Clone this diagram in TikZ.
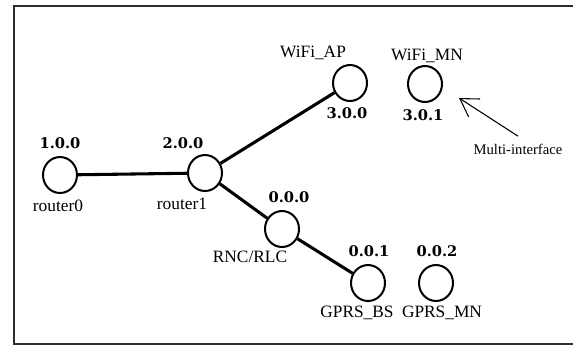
\documentclass[tikz,border=0pt]{standalone}
\usepackage{fontspec}
\usepackage{xcolor}
\usepackage{tikz}
\usetikzlibrary{shapes.geometric,arrows.meta}
\setmainfont{Liberation Serif}
\newfontfamily\addrfont{DejaVu Serif}
\definecolor{frame}{RGB}{45, 45, 45}

\begin{document}
\begin{tikzpicture}[x=0.75pt, y=-0.75pt,
    host/.style={ellipse, draw, line width=1.5pt, minimum width=25.5pt, minimum height=27pt, inner sep=0pt},
    addr/.style={font=\addrfont\bfseries\fontsize{11}{13}\selectfont, inner sep=0pt},
    hostname/.style={font=\fontsize{13}{15}\selectfont, inner sep=0pt},
    link/.style={line width=2.3pt},
    pointer/.style={line width=0.8pt, -{Straight Barb[length=13pt, width=16pt, line width=0.8pt]}}]
    \useasboundingbox (0,0) rectangle (573,347);

    % Frame (open on the right)
    \draw[frame, line width=2.2pt] (573,6) -- (14,6) -- (14,344) -- (573,344);

    % Hosts: circle, address above/below and name
    \foreach \id/\x/\y/\addr/\ax/\ay/\name/\nx/\ny in {
      r0/60/175/1.0.0/60/143/router0/58/206,
      r1/205/173/2.0.0/183/143/router1/182/204,
      wifiap/350/83/3.0.0/347/113/WiFi\_AP/313/53,
      wifimn/425/84/3.0.1/423/115/WiFi\_MN/427/56,
      rnc/282/229/0.0.0/289/197/{RNC/RLC}/250/257,
      gprsbs/368/283/0.0.1/369/251/GPRS\_BS/357/313,
      gprsmn/436/283/0.0.2/437/251/GPRS\_MN/442/313%
    } {
      \node[host] (\id) at (\x,\y) {};
      \node[addr] (\id-addr) at (\ax,\ay) {\addr};
      \node[hostname] (\id-name) at (\nx,\ny) {\name};
    }

    % Links
    \draw[link] (r0) -- (r1);
    \draw[link] (r1) -- (wifiap);
    \draw[link] (r1) -- (rnc);
    \draw[link] (rnc) -- (gprsbs);

    % Label: "Multi-interface" pointing at the mobile node
    \node[font=\fontsize{11}{13}\selectfont, inner sep=1pt] (multi) at (518,149) {Multi-interface};
    \coordinate (mnport) at (459,98);
    \draw[pointer] ([yshift=4.5pt]multi.north) -- (mnport);
\end{tikzpicture}
\end{document}
